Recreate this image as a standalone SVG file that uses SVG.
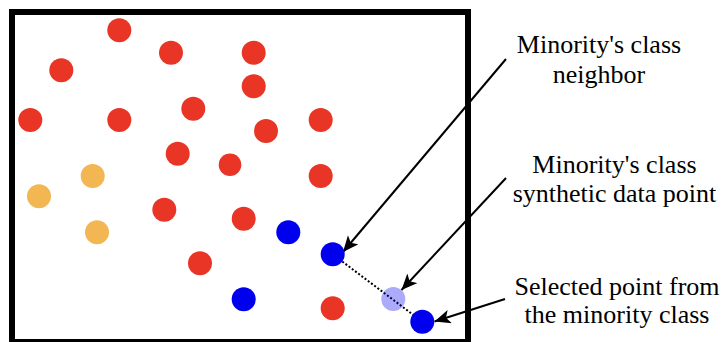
<svg xmlns="http://www.w3.org/2000/svg" width="726" height="342" viewBox="0 0 726 342">
<style>
.r{fill:#e93526}.o{fill:#f2b753}.b{fill:#0000ee}
.c{stroke:#000;stroke-width:2;fill:none}
</style>
<defs>
<marker id="ah" markerUnits="userSpaceOnUse" markerWidth="20" markerHeight="16" refX="16" refY="7" orient="auto">
<path d="M0,0 L16,7 L0,14 L4,7 Z" fill="#000"/>
</marker>
</defs>
<rect x="0" y="0" width="726" height="342" fill="#fff"/>
<g id="frame"><rect x="12" y="12" width="456" height="330" fill="none" stroke="#000" stroke-width="6"/></g>
<g id="majority">
<circle class="r" cx="119.3" cy="30.3" r="12"/>
<circle class="r" cx="171" cy="52.7" r="12"/>
<circle class="r" cx="253.7" cy="52.7" r="12"/>
<circle class="r" cx="61.3" cy="70.3" r="12"/>
<circle class="r" cx="253.7" cy="86.3" r="12"/>
<circle class="r" cx="193.3" cy="108.7" r="12"/>
<circle class="r" cx="30.3" cy="120" r="12"/>
<circle class="r" cx="119.3" cy="120" r="12"/>
<circle class="r" cx="320.7" cy="120" r="12"/>
<circle class="r" cx="266" cy="131" r="12"/>
<circle class="r" cx="177.7" cy="153.7" r="12"/>
<circle class="r" cx="230" cy="164.7" r="11.3"/>
<circle class="r" cx="320.7" cy="176" r="12"/>
<circle class="r" cx="164.3" cy="209.7" r="12"/>
<circle class="r" cx="243.7" cy="218.7" r="12"/>
<circle class="r" cx="200" cy="263.3" r="12"/>
<circle class="r" cx="332.7" cy="308.3" r="12"/>
</g>
<g id="other">
<circle class="o" cx="92.7" cy="176" r="12"/>
<circle class="o" cx="39" cy="196.3" r="12"/>
<circle class="o" cx="97" cy="232.3" r="12"/>
</g>
<g id="minority">
<circle class="b" cx="288.3" cy="232.3" r="12"/>
<circle class="b" cx="243.7" cy="299.3" r="12"/>
</g>
<g id="connectors">
<line x1="332.7" y1="254.3" x2="422.3" y2="321.7" stroke="#000" stroke-width="2" stroke-dasharray="2,2"/>
<line class="c" x1="506" y1="59" x2="343" y2="252" marker-end="url(#ah)"/>
<line class="c" x1="506" y1="178" x2="401.5" y2="290" marker-end="url(#ah)"/>
<line class="c" x1="505" y1="299" x2="434.5" y2="321.5" marker-end="url(#ah)"/>
</g>
<g id="neighbor"><circle class="b" cx="332.7" cy="254.3" r="12"/></g>
<g id="synthetic"><circle cx="393.3" cy="299" r="12" fill="#0000ee" fill-opacity="0.33"/></g>
<g id="selected"><circle class="b" cx="422.3" cy="321.7" r="12"/></g>
<g id="label-neighbor">
<text x="599" y="53" text-anchor="middle" style="font-family:'Liberation Serif','Times New Roman',serif !important;font-size:26px">Minority's class</text>
<text x="599" y="83" text-anchor="middle" style="font-family:'Liberation Serif','Times New Roman',serif !important;font-size:26px">neighbor</text>
</g>
<g id="label-synthetic">
<text x="614.5" y="173" text-anchor="middle" style="font-family:'Liberation Serif','Times New Roman',serif !important;font-size:26px">Minority's class</text>
<text x="614.5" y="202" text-anchor="middle" style="font-family:'Liberation Serif','Times New Roman',serif !important;font-size:26px">synthetic data point</text>
</g>
<g id="label-selected">
<text x="617" y="295" text-anchor="middle" style="font-family:'Liberation Serif','Times New Roman',serif !important;font-size:26px">Selected point from</text>
<text x="617" y="323" text-anchor="middle" style="font-family:'Liberation Serif','Times New Roman',serif !important;font-size:26px">the minority class</text>
</g>
</svg>
